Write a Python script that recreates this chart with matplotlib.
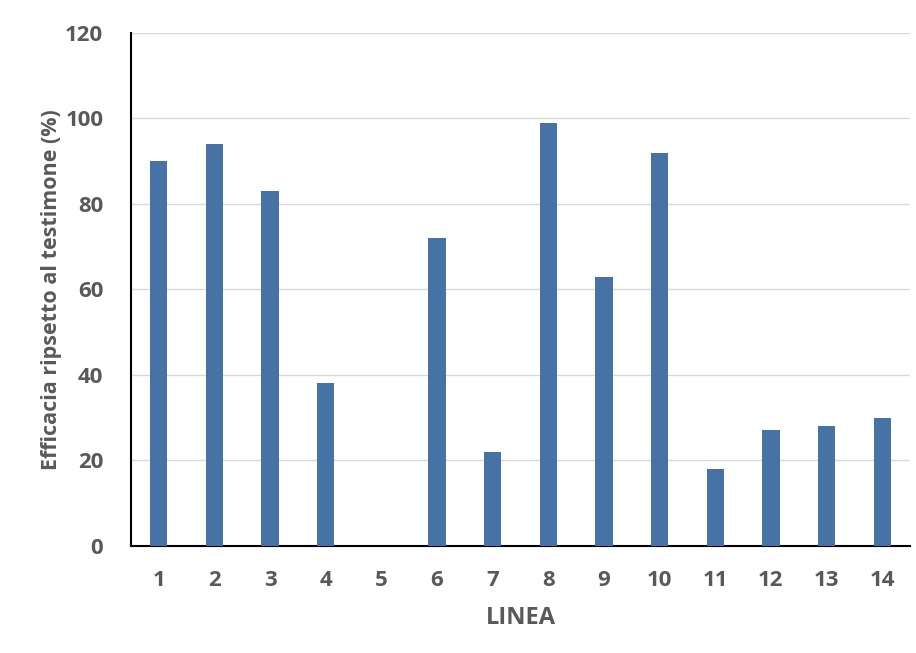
import matplotlib.pyplot as plt

linee = ['1', '2', '3', '4', '5', '6', '7', '8', '9', '10', '11', '12', '13', '14']
efficacia = [90, 94, 83, 38, 0, 72, 22, 99, 63, 92, 18, 27, 28, 30]

grigio = '#595959'
plt.rcParams['font.family'] = ['Open Sans', 'DejaVu Sans']

fig = plt.figure(figsize=(9.16, 6.53), dpi=100)
ax = fig.add_axes([0.143, 0.164, 0.8505, 0.7855])

ax.bar(linee, efficacia, width=0.31, color='#4672A6', zorder=3)

ax.set_ylim(0, 120)
ax.set_yticks(range(0, 121, 20))
ax.set_xlim(-0.5, len(linee) - 0.5)
ax.grid(axis='y', color='#D9D9D9', linewidth=1, zorder=0)

for s in ['top', 'right']:
    ax.spines[s].set_visible(False)
ax.spines['left'].set_linewidth(1.5)
ax.spines['bottom'].set_linewidth(1.5)
ax.tick_params(length=0, labelsize=16, labelcolor=grigio)
for lab in ax.get_xticklabels() + ax.get_yticklabels():
    lab.set_fontweight('bold')
ax.tick_params(axis='x', pad=17)
ax.tick_params(axis='y', pad=20)

ax.set_xlabel('LINEA', fontsize=17, fontweight='bold', color=grigio, labelpad=11)
ax.set_ylabel('Efficacia ripsetto al testimone (%)', fontsize=15.5, fontweight='bold', color=grigio, labelpad=2)

fig.savefig('out.png', dpi=100)
